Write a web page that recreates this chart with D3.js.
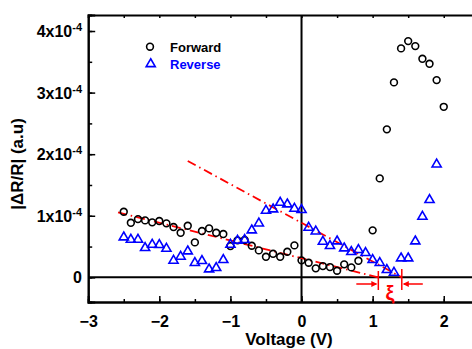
<!DOCTYPE html>
<html><head><meta charset="utf-8">
<script src="https://cdn.jsdelivr.net/npm/d3@7"></script>
<style>body{margin:0;background:#fff}svg{display:block}text{font-family:"Liberation Sans",Arial,sans-serif;font-weight:bold}</style>
</head><body>
<svg id="c" width="472" height="349"></svg>
<script>
// Data (ΔR/R in units of 1e-4)
const forwardV = [-2.5,-2.4,-2.3,-2.2,-2.1,-2.0,-1.9,-1.8,-1.7,-1.6,-1.5,-1.4,-1.3,-1.2,-1.1,-1.0,-0.9,-0.8,-0.7,-0.6,-0.5,-0.4,-0.3,-0.2,-0.1,0.0,0.1,0.2,0.3,0.4,0.5,0.6,0.7,0.8,1.0,1.1,1.2,1.3,1.4,1.5,1.6,1.7,1.8,1.9,2.0];
const forwardR = [1.065,0.886,0.946,0.925,0.893,0.914,0.877,0.817,0.724,0.838,0.568,0.752,0.795,0.724,0.703,0.508,0.601,0.606,0.513,0.438,0.334,0.383,0.334,0.416,0.519,0.276,0.237,0.146,0.183,0.167,0.107,0.211,0.162,0.269,0.763,1.607,2.403,3.166,3.718,3.836,3.755,3.549,3.468,3.203,2.769];
const reverseV = [-2.5,-2.4,-2.3,-2.2,-2.1,-2.0,-1.9,-1.8,-1.7,-1.6,-1.5,-1.4,-1.3,-1.2,-1.1,-1.0,-0.9,-0.8,-0.7,-0.6,-0.5,-0.4,-0.3,-0.2,-0.1,0.0,0.1,0.2,0.3,0.4,0.5,0.6,0.7,0.8,0.9,1.0,1.1,1.2,1.3,1.4,1.5,1.6,1.7,1.8,1.9];
const reverseR = [0.659,0.622,0.622,0.487,0.541,0.536,0.476,0.281,0.346,0.432,0.244,0.276,0.140,0.162,0.292,0.541,0.606,0.617,0.773,0.886,1.093,1.114,1.222,1.195,1.125,1.104,0.817,0.756,0.589,0.519,0.594,0.481,0.422,0.455,0.406,0.292,0.244,0.130,0.086,0.318,0.318,0.594,0.995,1.266,1.844];
const fitForward = [[-2.58,1.055],[1.076,0]];
const fitReverse = [[-1.6,1.89],[1.41,0]];
const xi = {left:1.08, right:1.41};
const xTicks = [-3,-2,-1,0,1,2];
const yTicks = [0,1,2,3,4];
const yTickLabels = ["0","1x10","2x10","3x10","4x10"];
const ySup = ["","-4","-4","-4","-4"];

const svg = d3.select("#c");
const x = d3.scaleLinear().domain([-3,2.5]).range([88.2,479.3]);
const y = d3.scaleLinear().domain([-0.4,4.26]).range([302,15]);
const X0 = x(-3), X1 = x(2.5), Y0 = y(-0.4), Y1 = y(4.26);

// zero lines
svg.append("line").attr("x1",X0).attr("x2",X1).attr("y1",y(0)).attr("y2",y(0)).attr("stroke","#000").attr("stroke-width",2);
svg.append("line").attr("x1",x(0)).attr("x2",x(0)).attr("y1",Y0).attr("y2",Y1).attr("stroke","#000").attr("stroke-width",2);

// axes
const minorX = d3.range(-3,2.51,0.5);
const minorY = d3.range(0,4.01,0.5);
const bx = svg.append("g").attr("transform",`translate(0,${Y0})`)
  .call(d3.axisBottom(x).tickValues(minorX).tickSize(-3).tickFormat(""));
const bx2 = svg.append("g").attr("transform",`translate(0,${Y0})`)
  .call(d3.axisBottom(x).tickValues(xTicks).tickSize(-6).tickPadding(14).tickFormat(d3.format("d")));
const tx = svg.append("g").attr("transform",`translate(0,${Y1})`)
  .call(d3.axisTop(x).tickValues(minorX).tickSize(-3).tickFormat(""));
const ly = svg.append("g").attr("transform",`translate(${X0},0)`)
  .call(d3.axisLeft(y).tickValues(minorY).tickSize(-4).tickFormat(""));
const ly2 = svg.append("g").attr("transform",`translate(${X0},0)`)
  .call(d3.axisLeft(y).tickValues(yTicks).tickSize(-7).tickFormat(""));
[bx,bx2,tx,ly,ly2].forEach(g=>{g.select(".domain").attr("stroke-width",2).attr("stroke","#000");g.selectAll(".tick line").attr("stroke","#000").attr("stroke-width",1.5);});
bx2.selectAll(".tick text").attr("font-size",16).attr("font-family","Liberation Sans, Arial, sans-serif").attr("font-weight","bold").attr("fill","#000");

// y tick labels with superscripts
const yl = svg.append("g");
yTicks.forEach((v,i)=>{
  const t = yl.append("text").attr("x",82).attr("y",y(v)+6).attr("text-anchor","end").attr("font-size",16).attr("fill","#000");
  t.append("tspan").text(yTickLabels[i]);
  if (ySup[i]) t.append("tspan").attr("font-size",11).attr("dy",-6).text(ySup[i]);
});

// fit lines
const line = d3.line().x(d=>x(d[0])).y(d=>y(d[1]));
svg.append("path").attr("d",line(fitForward)).attr("fill","none").attr("stroke","#ff0000").attr("stroke-width",1.8).attr("stroke-dasharray","9,4,1.5,4");
svg.append("path").attr("d",line(fitReverse)).attr("fill","none").attr("stroke","#ff0000").attr("stroke-width",1.8).attr("stroke-dasharray","9,4,1.5,4");

// data markers
const fwd = forwardV.map((v,i)=>[v,forwardR[i]]);
const rev = reverseV.map((v,i)=>[v,reverseR[i]]);
svg.append("g").selectAll("circle").data(fwd).join("circle")
  .attr("cx",d=>x(d[0])).attr("cy",d=>y(d[1])).attr("r",3.4)
  .attr("fill","none").attr("stroke","#000").attr("stroke-width",1.6);
const tri = d3.symbol().type(d3.symbolTriangle).size(36);
svg.append("g").selectAll("path").data(rev).join("path")
  .attr("d",tri).attr("transform",d=>`translate(${x(d[0])},${y(d[1])+0.5})`)
  .attr("fill","none").attr("stroke","#0000ff").attr("stroke-width",1.6);

// xi annotation
const red = "#ff0000";
const ay = 284;
const g = svg.append("g").attr("stroke",red).attr("stroke-width",1.5).attr("fill",red);
const xl = x(xi.left), xr = x(xi.right);
g.append("line").attr("x1",xl).attr("x2",xl).attr("y1",271).attr("y2",290);
g.append("line").attr("x1",xr).attr("x2",xr).attr("y1",269).attr("y2",290);
g.append("line").attr("x1",xl-22).attr("x2",xl-2).attr("y1",ay).attr("y2",ay);
g.append("path").attr("d",`M${xl-1},${ay} L${xl-7},${ay-3} L${xl-7},${ay+3} Z`).attr("stroke","none");
g.append("line").attr("x1",xr+2).attr("x2",xr+21).attr("y1",ay).attr("y2",ay);
g.append("path").attr("d",`M${xr+1},${ay} L${xr+7},${ay-3} L${xr+7},${ay+3} Z`).attr("stroke","none");
svg.append("text").attr("x",(xl+xr)/2).attr("y",300).attr("text-anchor","middle").attr("font-size",20).attr("font-weight","normal").attr("fill",red).text("ξ");

// legend
svg.append("circle").attr("cx",150).attr("cy",46.7).attr("r",3.4).attr("fill","none").attr("stroke","#000").attr("stroke-width",1.6);
svg.append("text").attr("x",170).attr("y",51.5).attr("font-size",13).attr("fill","#000").text("Forward");
svg.append("path").attr("d",tri).attr("transform","translate(150.7,64)").attr("fill","none").attr("stroke","#0000ff").attr("stroke-width",1.6);
svg.append("text").attr("x",170).attr("y",69).attr("font-size",13).attr("fill","#0000ff").text("Reverse");

// axis titles
svg.append("text").attr("x",289).attr("y",345).attr("text-anchor","middle").attr("font-size",17).attr("fill","#000").text("Voltage (V)");
svg.append("text").attr("transform","translate(23,164) rotate(-90)").attr("text-anchor","middle").attr("font-size",17).attr("fill","#000").text("|ΔR/R| (a.u)");
</script>
</body></html>
